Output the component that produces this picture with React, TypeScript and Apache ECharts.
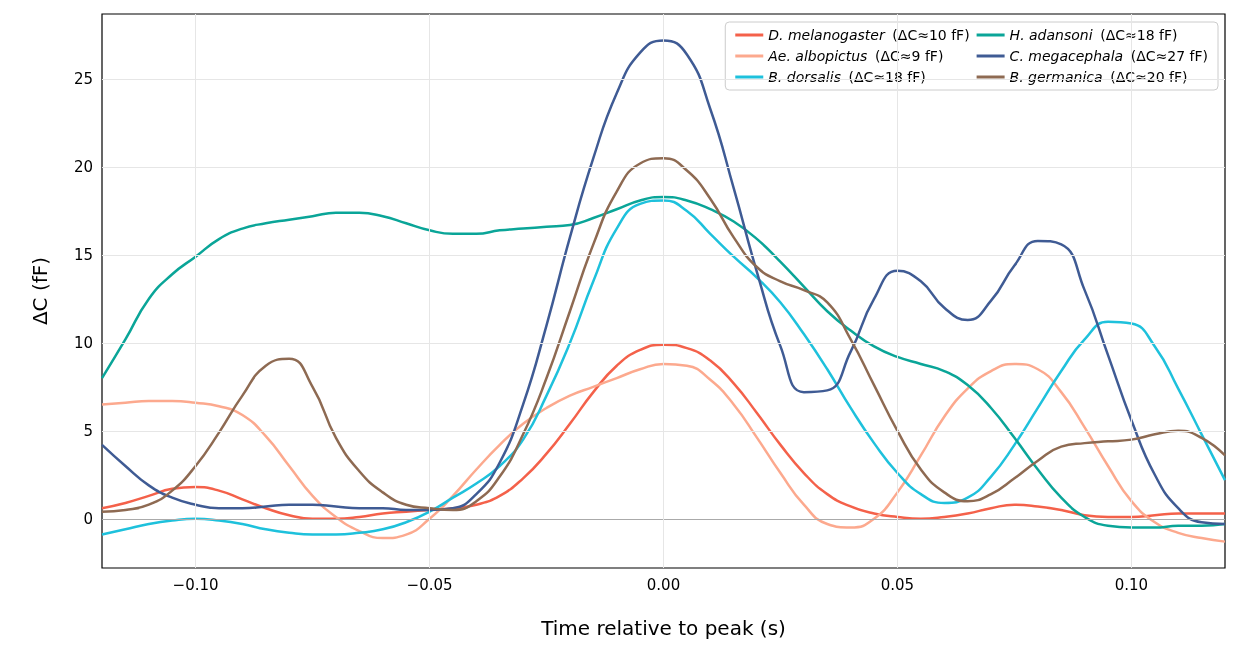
import React, { useEffect, useRef } from 'react';
import * as echarts from 'echarts';

const xs: number[] = [];
for (let i = 0; i <= 48; i++) xs.push(Math.round((-0.12 + i * 0.005) * 1000) / 1000);

const names = ['D.melanogaster', 'Ae.albopictus', 'B.dorsalis', 'H.adansoni', 'C.megacephala', 'B.germanica'];
const deltas = ['10', '9', '18', '18', '27', '20'];
const colors = ['#f4614a', '#fca98e', '#1ec1dc', '#0aa598', '#3f5b94', '#8e6a52'];

const melanogaster = [0.6, 0.9, 1.3, 1.7, 1.8, 1.6, 1.1, 0.6, 0.2, 0.0, 0.0, 0.1, 0.3, 0.4, 0.5, 0.6, 0.8, 1.3, 2.3, 3.7, 5.4, 7.2, 8.7, 9.6, 9.9, 9.7, 9.0, 7.7, 6.0, 4.2, 2.6, 1.4, 0.7, 0.3, 0.1, 0.0, 0.1, 0.3, 0.6, 0.8, 0.7, 0.5, 0.2, 0.1, 0.1, 0.2, 0.3, 0.3, 0.3];
const albopictus = [6.5, 6.6, 6.7, 6.7, 6.6, 6.4, 5.9, 4.7, 3.0, 1.3, 0.1, -0.7, -1.1, -0.9, 0.0, 1.3, 2.8, 4.2, 5.4, 6.3, 7.0, 7.5, 8.0, 8.5, 8.8, 8.7, 7.9, 6.5, 4.6, 2.6, 0.8, -0.3, -0.5, 0.0, 1.5, 3.6, 5.8, 7.4, 8.4, 8.8, 8.5, 7.2, 5.2, 3.0, 1.0, -0.2, -0.8, -1.1, -1.3];
const dorsalis = [-0.9, -0.6, -0.3, -0.1, 0.0, -0.1, -0.3, -0.6, -0.8, -0.9, -0.9, -0.8, -0.6, -0.2, 0.4, 1.2, 2.0, 3.0, 4.5, 7.0, 10.0, 13.5, 16.5, 17.9, 18.1, 17.5, 16.2, 14.9, 13.7, 12.3, 10.5, 8.5, 6.3, 4.3, 2.6, 1.4, 0.9, 1.2, 2.4, 4.2, 6.3, 8.4, 10.2, 11.2, 11.1, 9.8, 7.4, 4.8, 2.2];
const adansoni = [8.0, 10.2, 12.5, 13.9, 14.9, 15.9, 16.5, 16.8, 17.0, 17.2, 17.4, 17.4, 17.2, 16.8, 16.4, 16.2, 16.2, 16.4, 16.5, 16.6, 16.7, 17.1, 17.6, 18.1, 18.3, 18.1, 17.6, 16.9, 15.9, 14.6, 13.2, 11.8, 10.7, 9.8, 9.2, 8.8, 8.4, 7.6, 6.3, 4.6, 2.8, 1.2, 0.1, -0.4, -0.5, -0.5, -0.4, -0.4, -0.3];
const megacephala = [4.2, 3.0, 1.9, 1.2, 0.8, 0.6, 0.6, 0.7, 0.8, 0.8, 0.7, 0.6, 0.6, 0.5, 0.5, 0.6, 1.4, 3.2, 6.5, 11.0, 16.0, 20.5, 24.2, 26.5, 27.2, 26.4, 23.3, 18.8, 14.0, 9.8, 7.2, 7.3, 9.5, 12.5, 14.1, 13.5, 12.0, 11.3, 12.4, 14.4, 15.8, 15.6, 13.0, 9.3, 5.6, 2.5, 0.6, -0.2, -0.3];
const germanica = [0.4, 0.5, 0.8, 1.6, 3.0, 4.9, 7.0, 8.7, 9.1, 7.5, 4.6, 2.7, 1.5, 0.8, 0.6, 0.5, 1.0, 2.4, 4.8, 8.0, 11.8, 15.6, 18.6, 20.2, 20.5, 19.8, 18.2, 16.0, 14.3, 13.5, 13.0, 12.3, 10.2, 7.6, 5.0, 2.8, 1.5, 1.0, 1.4, 2.3, 3.3, 4.1, 4.3, 4.4, 4.5, 4.8, 5.0, 4.6, 3.6];
const allSeries = [melanogaster, albopictus, dorsalis, adansoni, megacephala, germanica];

const xTicks = [-0.1, -0.05, 0, 0.05, 0.1];
const yTicks = [0, 5, 10, 15, 20, 25];

const FONT = 'DejaVu Sans';
const minus = (s: string) => s.replace('-', '\u2212');

const App: React.FC = () => {
  const ref = useRef<HTMLDivElement>(null);

  useEffect(() => {
    if (!ref.current) return;
    const chart = echarts.init(ref.current, undefined, { renderer: 'svg' });

    const series: any[] = allSeries.map((vals, i) => ({
      name: names[i],
      type: 'line',
      smooth: 0.5,
      showSymbol: false,
      data: vals.map((v, j) => [xs[j], v]),
      lineStyle: { color: colors[i], width: 2.5 },
      itemStyle: { color: colors[i] },
      z: 3,
    }));
    // reference lines: zero level and peak time
    series.push({
      type: 'line',
      data: [],
      silent: true,
      markLine: {
        symbol: 'none',
        silent: true,
        label: { show: false },
        data: [
          { yAxis: 0, lineStyle: { color: '#aaaaaa', width: 1, type: 'solid' } },
          { xAxis: 0, lineStyle: { color: '#aaaaaa', width: 0.8, type: [2, 2] } },
        ],
      },
    });

    chart.setOption({
      animation: false,
      textStyle: { fontFamily: FONT },
      grid: { left: 102, right: 15, top: 14, bottom: 94, show: true, borderColor: '#000', borderWidth: 1.2 },
      legend: {
        orient: 'vertical',
        right: 22,
        top: 22,
        height: 72,
        itemGap: 7,
        itemWidth: 28,
        itemHeight: 3,
        padding: [6, 10, 6, 10],
        borderColor: '#cccccc',
        borderWidth: 1,
        borderRadius: 4,
        backgroundColor: 'rgba(255,255,255,0.85)',
        icon: 'rect',
        data: names,
        formatter: (n: string) => `{i|${n.replace('.', '. ')}}  {n|(ΔC≈${deltas[names.indexOf(n)]} fF)}`,
        textStyle: {
          rich: {
            i: { fontStyle: 'italic', fontSize: 14, fontFamily: FONT, color: '#000' },
            n: { fontSize: 14, fontFamily: FONT, color: '#000' },
          },
        },
      },
      xAxis: {
        type: 'value',
        min: -0.12,
        max: 0.12,
        name: 'Time relative to peak (s)',
        nameLocation: 'middle',
        nameGap: 50,
        nameTextStyle: { fontSize: 20, color: '#000' },
        axisLine: { show: false },
        axisTick: { show: true, customValues: xTicks, length: 5, lineStyle: { color: '#000' } },
        axisLabel: { customValues: xTicks, fontSize: 15, color: '#000', margin: 9, formatter: (v: number) => minus(v.toFixed(2)) },
        splitLine: { show: false },
      },
      yAxis: {
        type: 'value',
        min: -2.8,
        max: 28.7,
        name: 'ΔC (fF)',
        nameLocation: 'middle',
        nameGap: 52,
        nameTextStyle: { fontSize: 20, color: '#000' },
        axisLine: { show: false },
        axisTick: { show: true, customValues: yTicks, length: 5, lineStyle: { color: '#000' } },
        axisLabel: { customValues: yTicks, fontSize: 15, color: '#000', margin: 9, formatter: (v: number) => String(v) },
        splitLine: { show: false },
      },
      series: [
        ...series,
        {
          type: 'line',
          data: [],
          silent: true,
          markLine: {
            symbol: 'none',
            silent: true,
            label: { show: false },
            lineStyle: { color: '#e6e6e6', width: 1, type: 'solid' },
            data: [...xTicks.map((x) => ({ xAxis: x })), ...yTicks.filter((y) => y !== 0).map((y) => ({ yAxis: y }))],
          },
          z: 1,
        },
      ],
    });

    return () => chart.dispose();
  }, []);

  return <div ref={ref} style={{ position: 'fixed', left: 0, top: 0, width: 1240, height: 662 }} />;
};

export default App;
